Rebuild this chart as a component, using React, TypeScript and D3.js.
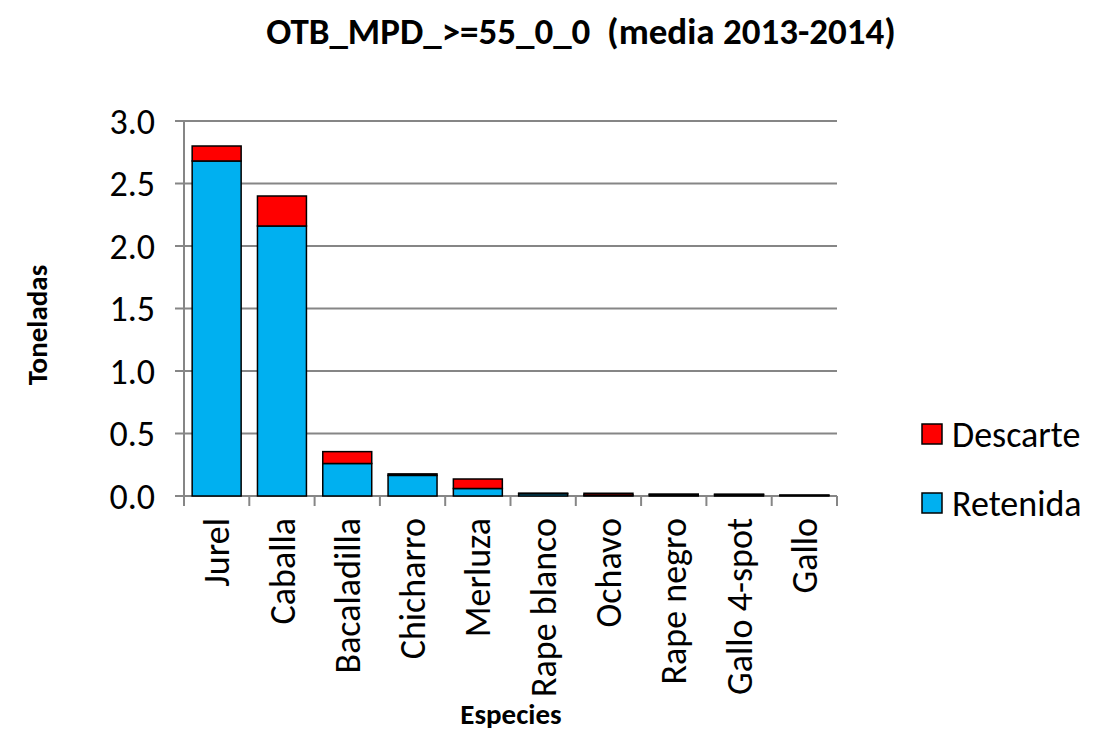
import React, { useRef, useEffect } from "react";
import * as d3 from "d3";

const categories = [
  "Jurel",
  "Caballa",
  "Bacaladilla",
  "Chicharro",
  "Merluza",
  "Rape blanco",
  "Ochavo",
  "Rape negro",
  "Gallo 4-spot",
  "Gallo",
];
const retenida = [2.68, 2.16, 0.26, 0.165, 0.06, 0.018, 0.008, 0.012, 0.012, 0.006];
const descarte = [0.12, 0.24, 0.095, 0.012, 0.076, 0.005, 0.014, 0.003, 0.002, 0.001];
const yTicks = [0, 0.5, 1.0, 1.5, 2.0, 2.5, 3.0];

const FONT = "Carlito, Calibri, Lato, sans-serif";

const App: React.FC = () => {
  const chartRef = useRef<SVGSVGElement | null>(null);

  useEffect(() => {
    if (!chartRef.current) return;
    const svg = d3.select(chartRef.current);
    svg.selectAll("*").remove();

    const width = 1101;
    const height = 731;
    const left = 184;
    const right = 837;
    const top = 121;
    const bottom = 496;

    svg.attr("width", width).attr("height", height);
    svg.append("rect").attr("width", width).attr("height", height).attr("fill", "#fff");

    const x = d3.scaleBand<string>().domain(categories).range([left, right]).paddingInner(0.25).paddingOuter(0.125);
    const y = d3.scaleLinear().domain([0, 3]).range([bottom, top]);

    // gridlines + left ticks
    svg
      .append("g")
      .selectAll("line")
      .data(yTicks)
      .enter()
      .append("line")
      .attr("x1", left - 9)
      .attr("x2", right)
      .attr("y1", (d) => y(d))
      .attr("y2", (d) => y(d))
      .attr("stroke", "#868686")
      .attr("stroke-width", 2);

    // y axis line
    svg
      .append("line")
      .attr("x1", left)
      .attr("x2", left)
      .attr("y1", top)
      .attr("y2", bottom + 10)
      .attr("stroke", "#868686")
      .attr("stroke-width", 2);

    // x ticks at category boundaries
    const step = x.step();
    const bounds = d3.range(categories.length + 1).map((i) => left + i * step);
    svg
      .append("g")
      .selectAll("line")
      .data(bounds.slice(1))
      .enter()
      .append("line")
      .attr("x1", (d) => d)
      .attr("x2", (d) => d)
      .attr("y1", bottom)
      .attr("y2", bottom + 10)
      .attr("stroke", "#868686")
      .attr("stroke-width", 2);

    // y tick labels
    svg
      .append("g")
      .selectAll("text")
      .data(yTicks)
      .enter()
      .append("text")
      .attr("x", 155)
      .attr("y", (d) => y(d))
      .attr("dy", "0.35em")
      .attr("text-anchor", "end")
      .attr("font-family", FONT)
      .attr("font-size", 36)
      .attr("fill", "#000")
      .text((d) => d.toFixed(1));

    const rows = categories.map((c, i) => ({ c, r: retenida[i], d: descarte[i] }));

    // bars
    const bars = svg.append("g");
    bars
      .selectAll("rect.ret")
      .data(rows)
      .enter()
      .append("rect")
      .attr("x", (d) => x(d.c)!)
      .attr("width", x.bandwidth())
      .attr("y", (d) => y(d.r))
      .attr("height", (d) => y(0) - y(d.r))
      .attr("fill", "#00B0F0")
      .attr("stroke", "#000")
      .attr("stroke-width", 1.5);
    bars
      .selectAll("rect.desc")
      .data(rows)
      .enter()
      .append("rect")
      .attr("x", (d) => x(d.c)!)
      .attr("width", x.bandwidth())
      .attr("y", (d) => y(d.r + d.d))
      .attr("height", (d) => y(d.r) - y(d.r + d.d))
      .attr("fill", "#FF0000")
      .attr("stroke", "#000")
      .attr("stroke-width", 1.5);

    // x labels
    svg
      .append("g")
      .selectAll("text")
      .data(categories)
      .enter()
      .append("text")
      .attr("transform", (d) => `translate(${x(d)! + x.bandwidth() / 2},${bottom + 22}) rotate(-90)`)
      .attr("dy", "0.35em")
      .attr("text-anchor", "end")
      .attr("font-family", FONT)
      .attr("font-size", 36)
      .attr("fill", "#000")
      .text((d) => d);

    // title
    svg
      .append("text")
      .attr("x", 581)
      .attr("y", 44)
      .attr("text-anchor", "middle")
      .attr("font-family", FONT)
      .attr("font-weight", "bold")
      .attr("font-size", 37)
      .style("white-space", "pre")
      .text("OTB_MPD_>=55_0_0  (media 2013-2014)");

    // axis titles
    svg
      .append("text")
      .attr("transform", "translate(37,325) rotate(-90)")
      .attr("text-anchor", "middle")
      .attr("dy", "0.35em")
      .attr("font-family", FONT)
      .attr("font-weight", "bold")
      .attr("font-size", 29)
      .text("Toneladas");
    svg
      .append("text")
      .attr("x", 511)
      .attr("y", 724)
      .attr("text-anchor", "middle")
      .attr("font-family", FONT)
      .attr("font-weight", "bold")
      .attr("font-size", 29)
      .text("Especies");

    // legend
    const legend = [
      { name: "Descarte", color: "#FF0000", y: 434 },
      { name: "Retenida", color: "#00B0F0", y: 503 },
    ];
    const lg = svg.append("g").selectAll("g").data(legend).enter().append("g");
    lg.append("rect")
      .attr("x", 922)
      .attr("y", (d) => d.y - 10)
      .attr("width", 20)
      .attr("height", 20)
      .attr("fill", (d) => d.color)
      .attr("stroke", "#000")
      .attr("stroke-width", 1.5);
    lg.append("text")
      .attr("x", 952)
      .attr("y", (d) => d.y)
      .attr("dy", "0.35em")
      .attr("font-family", FONT)
      .attr("font-size", 36)
      .text((d) => d.name);
  }, []);

  return <svg ref={chartRef} style={{ position: "absolute", left: 0, top: 0, display: "block" }} />;
};

export default App;
